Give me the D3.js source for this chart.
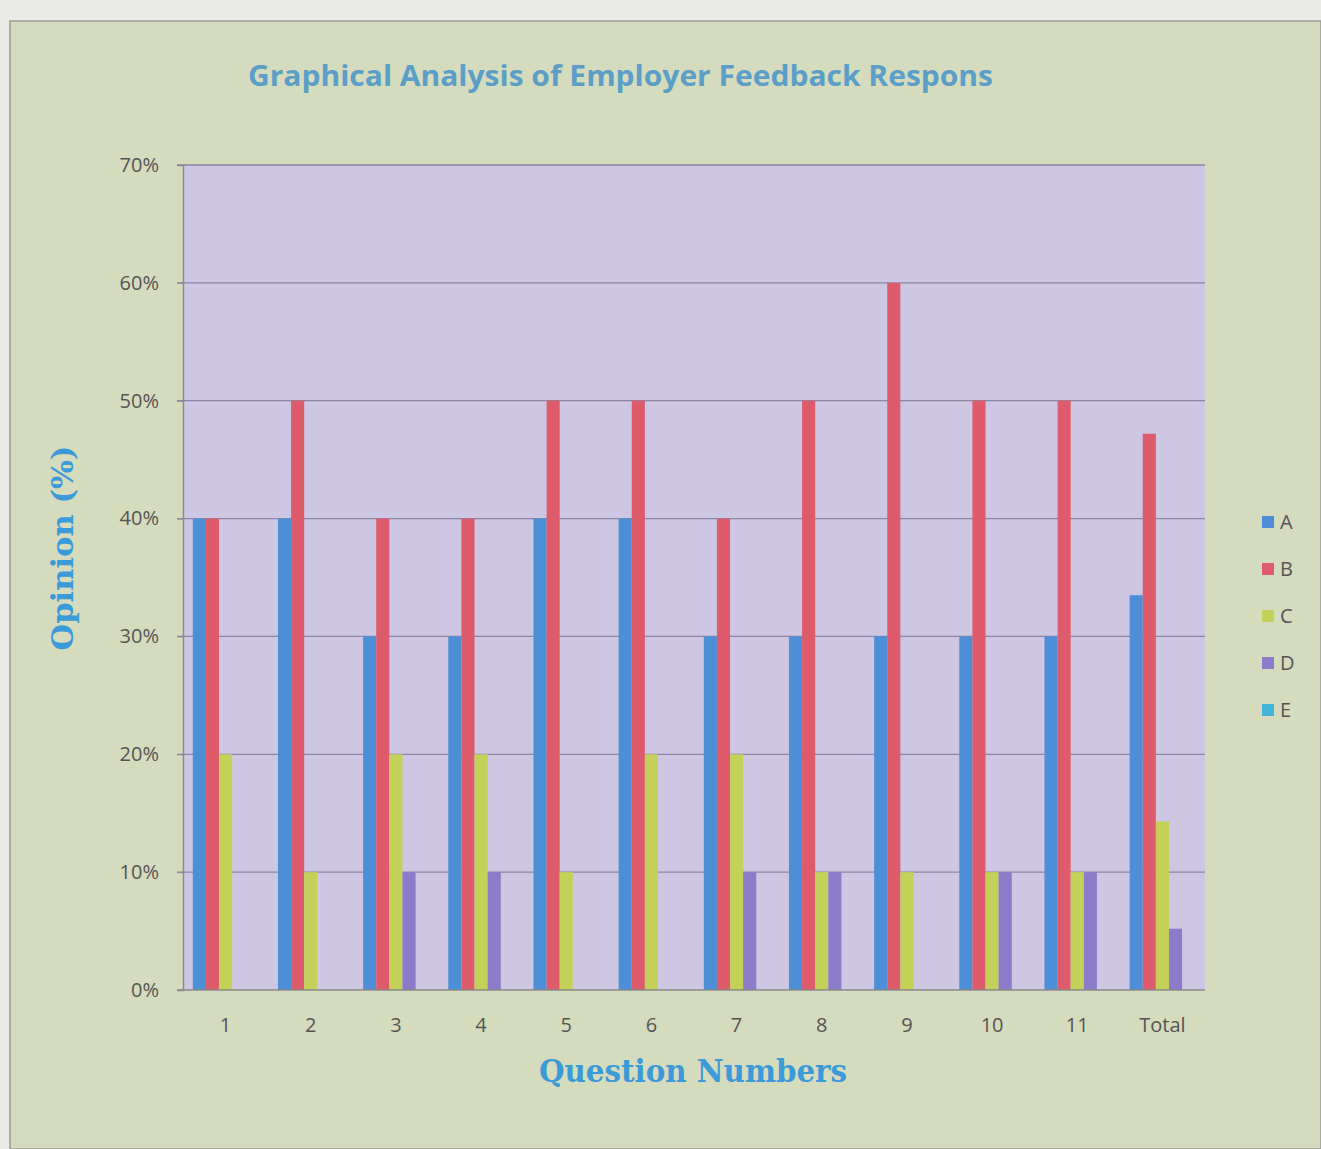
<!DOCTYPE html>
<html>
<head>
<script src="https://cdn.jsdelivr.net/npm/d3@7/dist/d3.min.js"></script>
<meta charset="utf-8">
<title>Employer Feedback</title>
<style>
  body { margin: 0; background: #e9eae6; }
  text { font-family: "Open Sans", sans-serif; }
  .tick text { fill: #555; font-size: 20px; }
</style>
</head>
<body>
<script type="text/javascript">

var questions = ["1", "2", "3", "4", "5", "6", "7", "8", "9", "10", "11", "Total"];
var seriesNames = ["A", "B", "C", "D", "E"];
var valuesA = [40, 40, 30, 30, 40, 40, 30, 30, 30, 30, 30, 33.5];
var valuesB = [40, 50, 40, 40, 50, 50, 40, 50, 60, 50, 50, 47.2];
var valuesC = [20, 10, 20, 20, 10, 20, 20, 10, 10, 10, 10, 14.3];
var valuesD = [0, 0, 10, 10, 0, 0, 10, 10, 0, 10, 10, 5.2];
var valuesE = [0, 0, 0, 0, 0, 0, 0, 0, 0, 0, 0, 0];
var yTicks = [0, 10, 20, 30, 40, 50, 60, 70];

var colors = ["#4c8fd6", "#dd5b6b", "#c3d159", "#8b7bc9", "#45b4d9"];
var allValues = [valuesA, valuesB, valuesC, valuesD, valuesE];

var width = 1321, height = 1149;
var margin = {left: 183, right: 116, top: 165, bottom: 159};

var svg = d3.select("body").append("svg")
    .attr("width", width)
    .attr("height", height);

// outer chart background
svg.append("rect")
    .attr("x", 10).attr("y", 21)
    .attr("width", width - 10).attr("height", height - 21)
    .attr("fill", "#d5dbbd")
    .attr("stroke", "#9a9a98")
    .attr("stroke-width", 1.5);

var x0 = d3.scaleBand()
    .domain(questions)
    .range([margin.left, width - margin.right])
    .paddingInner(0.23)
    .paddingOuter(0.115);

var x1 = d3.scaleBand()
    .domain(seriesNames)
    .range([0, x0.bandwidth()]);

var y = d3.scaleLinear()
    .domain([0, 70])
    .range([height - margin.bottom, margin.top]);

// plot area
svg.append("rect")
    .attr("x", margin.left)
    .attr("y", margin.top)
    .attr("width", width - margin.right - margin.left)
    .attr("height", y(0) - margin.top)
    .attr("fill", "#cec7e3");

// gridlines
svg.append("g")
    .selectAll("line")
    .data(yTicks.slice(1))
    .enter().append("line")
    .attr("x1", margin.left - 6)
    .attr("x2", width - margin.right)
    .attr("y1", function(d) { return y(d); })
    .attr("y2", function(d) { return y(d); })
    .attr("stroke", "#8c85a3")
    .attr("stroke-width", 1.3);

// bars
var rows = questions.map(function(q, i) {
  return {q: q, vals: seriesNames.map(function(s, j) {
    return {s: s, v: allValues[j][i], c: colors[j]};
  })};
});

var groups = svg.selectAll("g.group")
    .data(rows).enter().append("g")
    .attr("class", "group")
    .attr("transform", function(d) { return "translate(" + x0(d.q) + ",0)"; });

groups.selectAll("rect")
    .data(function(d) { return d.vals; })
    .enter().append("rect")
    .attr("x", function(d) { return x1(d.s); })
    .attr("width", x1.bandwidth())
    .attr("y", function(d) { return y(d.v); })
    .attr("height", function(d) { return y(0) - y(d.v); })
    .attr("fill", function(d) { return d.c; });

// y axis
var yAxis = svg.append("g")
    .attr("transform", "translate(" + margin.left + ",0)")
    .call(d3.axisLeft(y).tickValues(yTicks).tickSize(6).tickPadding(18)
      .tickFormat(function(d) { return d + "%"; }));
yAxis.select(".domain").attr("stroke", "#8a8a8a").attr("stroke-width", 1.5);
yAxis.selectAll(".tick line").attr("stroke", "#8c85a3");

// x axis
var xAxis = svg.append("g")
    .attr("transform", "translate(0," + y(0) + ")")
    .call(d3.axisBottom(x0).tickSize(0).tickPadding(28));
xAxis.select(".domain").attr("stroke", "#8a8a8a").attr("stroke-width", 1.5)
    .attr("d", "M" + (margin.left - 6) + ",0H" + (width - margin.right));

// title
svg.append("text")
    .attr("x", 248).attr("y", 86)
    .attr("textLength", 745)
    .attr("lengthAdjust", "spacingAndGlyphs")
    .style("font-size", "28px")
    .style("font-weight", "bold")
    .attr("fill", "#5b9fc9")
    .text("Graphical Analysis of Employer Feedback Respons");

// axis titles
svg.append("text")
    .attr("x", 693).attr("y", 1082)
    .attr("text-anchor", "middle")
    .attr("textLength", 308)
    .attr("lengthAdjust", "spacingAndGlyphs")
    .style("font-family", "'DejaVu Serif', serif")
    .style("font-size", "32px")
    .style("font-weight", "bold")
    .attr("fill", "#3b9ad8")
    .text("Question Numbers");

svg.append("text")
    .attr("transform", "translate(73,548) rotate(-90)")
    .attr("text-anchor", "middle")
    .attr("textLength", 205)
    .attr("lengthAdjust", "spacingAndGlyphs")
    .style("font-family", "'DejaVu Serif', serif")
    .style("font-size", "30px")
    .style("font-weight", "bold")
    .attr("fill", "#3b9ad8")
    .text("Opinion (%)");

// legend
var legend = svg.selectAll("g.legend")
    .data(seriesNames).enter().append("g")
    .attr("class", "legend")
    .attr("transform", function(d, i) { return "translate(1262," + (522 + i * 47) + ")"; });

legend.append("rect")
    .attr("x", 0).attr("y", -6)
    .attr("width", 12).attr("height", 12)
    .attr("fill", function(d, i) { return colors[i]; });

legend.append("text")
    .attr("x", 18).attr("y", 7)
    .style("font-size", "20px")
    .attr("fill", "#555")
    .text(function(d) { return d; });

</script>
</body>
</html>
